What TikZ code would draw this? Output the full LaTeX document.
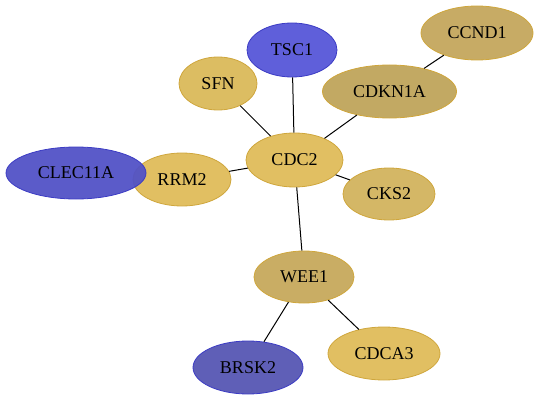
\documentclass[tikz,border=0pt]{standalone}
\usepackage{fontspec}
\setmainfont{Liberation Serif}
\usetikzlibrary{shapes.geometric}

\definecolor{tscblue}{HTML}{5656D8}
\definecolor{clecblue}{HTML}{5252C6}
\definecolor{brskblue}{HTML}{5656B3}
\definecolor{edgeblue}{HTML}{3C3CC4}
\definecolor{gold}{HTML}{DFBC5A}
\definecolor{sfngold}{HTML}{DAB95A}
\definecolor{cksgold}{HTML}{D2B35E}
\definecolor{khaki}{HTML}{BFA45B}
\definecolor{ccndkhaki}{HTML}{C4A65D}
\definecolor{weekhaki}{HTML}{C6A95C}
\definecolor{edgegold}{HTML}{CFA63C}

\tikzset{
    gene/.style={ellipse, draw=edgegold, line width=0.8pt, inner sep=0pt,
        fill opacity=0.95, text opacity=1, font=\fontsize{18}{20}\selectfont},
    bluegene/.style={gene, draw=edgeblue},
    link/.style={line width=1pt, black}
}

\begin{document}
\begin{tikzpicture}[x=1pt, y=-1pt]
    \useasboundingbox (0,0) rectangle (540,401);

    \node[gene, fill=gold, minimum width=98pt, minimum height=53pt] (rrm2) at (182,179.5) {RRM2};
    \node[bluegene, fill=clecblue, minimum width=140pt, minimum height=52pt] (clec11a) at (76,173) {CLEC11A};
    \node[bluegene, fill=tscblue, minimum width=90pt, minimum height=54pt] (tsc1) at (292,50) {TSC1};
    \node[gene, fill=ccndkhaki, minimum width=112pt, minimum height=54pt] (ccnd1) at (477,33) {CCND1};
    \node[gene, fill=sfngold, minimum width=78pt, minimum height=53pt] (sfn) at (218,83.5) {SFN};
    \node[gene, fill=khaki, minimum width=134pt, minimum height=53pt] (cdkn1a) at (389.5,91.5) {CDKN1A};
    \node[gene, fill=gold, minimum width=97pt, minimum height=54pt] (cdc2) at (294.5,160) {CDC2};
    \node[gene, fill=cksgold, minimum width=92pt, minimum height=52pt] (cks2) at (389,194) {CKS2};
    \node[gene, fill=weekhaki, minimum width=100pt, minimum height=52pt] (wee1) at (304,277) {WEE1};
    \node[bluegene, fill=brskblue, minimum width=110pt, minimum height=53pt] (brsk2) at (248,367.5) {BRSK2};
    \node[gene, fill=gold, minimum width=112pt, minimum height=53pt] (cdca3) at (384,353.5) {CDCA3};

    % interactions
    \draw[link] (cdc2) -- (tsc1);
    \draw[link] (cdc2) -- (sfn);
    \draw[link] (cdc2) -- (cdkn1a);
    \draw[link] (cdkn1a) -- (ccnd1);
    \draw[link] (cdc2) -- (rrm2);
    \draw[link] (cdc2) -- (cks2);
    \draw[link] (cdc2) -- (wee1);
    \draw[link] (wee1) -- (brsk2);
    \draw[link] (wee1) -- (cdca3);
\end{tikzpicture}
\end{document}
